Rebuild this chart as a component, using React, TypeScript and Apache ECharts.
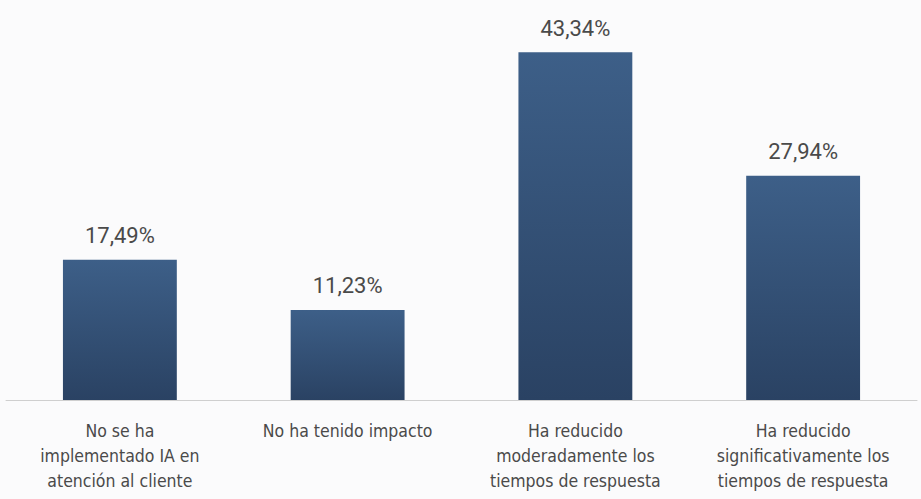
import React, { useEffect, useRef } from "react";
import * as echarts from "echarts";

const categories = [
  "No se ha\nimplementado IA en\natención al cliente",
  "No ha tenido impacto",
  "Ha reducido\nmoderadamente los\ntiempos de respuesta",
  "Ha reducido\nsignificativamente los\ntiempos de respuesta",
];
const values = [17.49, 11.23, 43.34, 27.94];

export default function App() {
  const ref = useRef<HTMLDivElement>(null);
  useEffect(() => {
    if (!ref.current) return;
    const chart = echarts.init(ref.current, null, { renderer: "svg" });
    chart.setOption({
      animation: false,
      backgroundColor: "#fbfbfc",
      grid: { left: 6, right: 4, top: 39, bottom: 99 },
      xAxis: {
        type: "category",
        data: categories,
        axisLine: { show: true, lineStyle: { color: "#cfcfcf", width: 1 } },
        axisTick: { show: false },
        axisLabel: {
          interval: 0,
          margin: 18,
          fontSize: 17.5,
          lineHeight: 25,
          color: "#4a4a4a",
          fontFamily: "'DejaVu Sans Condensed', Roboto",
        },
      },
      yAxis: {
        type: "value",
        min: 0,
        max: 45,
        show: false,
        splitLine: { show: false },
      },
      series: [
        {
          type: "bar",
          data: values,
          barWidth: "50%",
          itemStyle: {
            color: new echarts.graphic.LinearGradient(0, 0, 0, 1, [
              { offset: 0, color: "#3d5f88" },
              { offset: 1, color: "#2a4263" },
            ]),
          },
          label: {
            show: true,
            position: "top",
            distance: 13,
            fontSize: 22,
            color: "#4a4a4a",
            fontFamily: "Roboto",
            formatter: (p: any) => p.value.toFixed(2).replace(".", ",") + "%",
          },
        },
      ],
    });
    return () => chart.dispose();
  }, []);
  return (
    <div
      ref={ref}
      style={{ position: "fixed", top: 0, left: 0, width: 921, height: 499 }}
    />
  );
}
